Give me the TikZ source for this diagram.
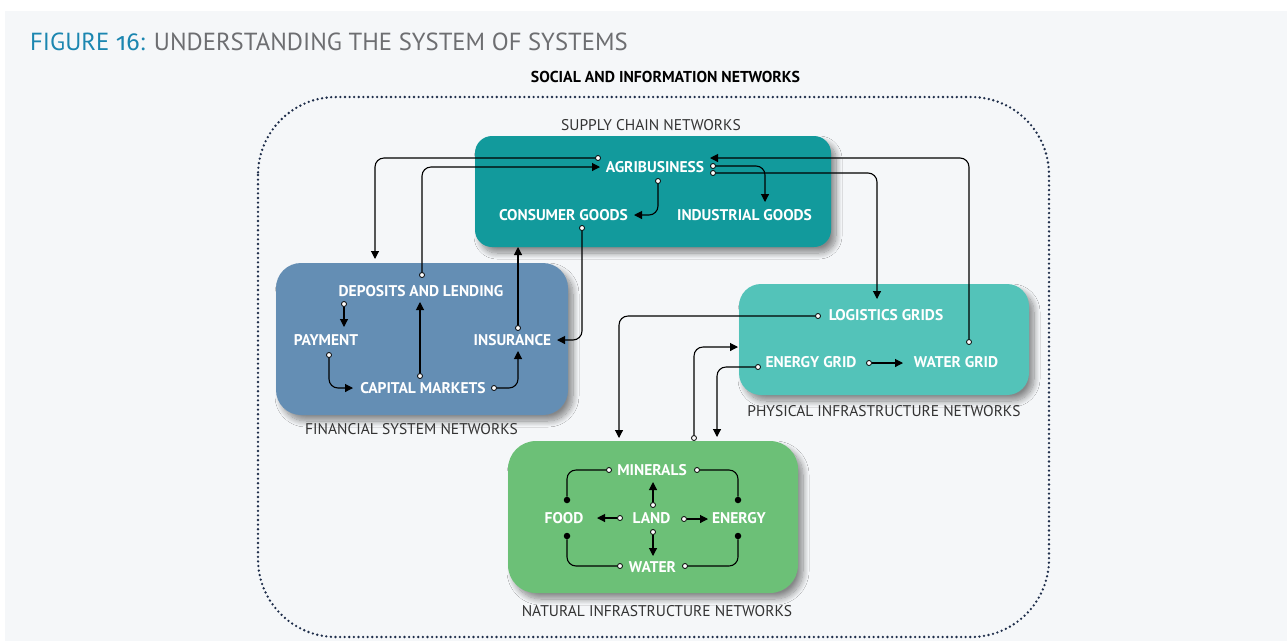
\documentclass[tikz,border=0pt]{standalone}
\usepackage{fontspec}
\setmainfont{PT Sans}
\newfontfamily\oldnum[Numbers=OldStyle]{Fira Sans}
\usetikzlibrary{arrows.meta,shadows,shadows.blur}
\definecolor{bgc}{HTML}{F5F7F9}
\definecolor{titleblue}{HTML}{1B86B0}
\definecolor{titlegray}{HTML}{6D6E71}
\definecolor{supply}{HTML}{129A9C}
\definecolor{fin}{HTML}{648EB4}
\definecolor{phys}{HTML}{53C3B9}
\definecolor{nat}{HTML}{6CC077}
\definecolor{dotc}{HTML}{1E2D4A}
\definecolor{labc}{HTML}{333333}
\begin{document}
\begin{tikzpicture}[x=1pt,y=-1pt,
  netbox/.style={rounded corners=#1, inner sep=0pt,
    blur shadow={shadow xshift=5pt, shadow yshift=-6pt, shadow blur radius=6pt, shadow blur steps=12, shadow opacity=45}},
  lab/.style={text=white, font=\bfseries\fontsize{15.5}{15.5}\selectfont, inner sep=0pt},
  boxcap/.style={text=labc, font=\fontsize{15.5}{15.5}\selectfont, inner sep=0pt},
  port/.style={circle, draw=black, fill=white, line width=0.8pt, inner sep=0pt, minimum size=5pt},
  blob/.style={circle, fill=black, inner sep=0pt, minimum size=6.5pt},
  conn/.style={draw=black, line width=1.1pt, rounded corners=9pt},
  arr/.style={conn, -{Triangle[length=8pt,width=8pt]}},
  plainconn/.style={conn}
]
\useasboundingbox (0,0) rectangle (1287,641);
\fill[white] (0,0) rectangle (1287,641);
\fill[bgc] (5,11) rectangle (1287,641);

% title
\node[anchor=base west, inner sep=0pt] (title) at (30,50)
  {\fontsize{24.7}{24.7}\selectfont\color{titleblue}FIGURE {\oldnum 16}: \color{titlegray}UNDERSTANDING THE SYSTEM OF SYSTEMS};
\node[inner sep=0pt, font=\bfseries\fontsize{15.8}{15.8}\selectfont] (social) at (665.5,77) {SOCIAL AND INFORMATION NETWORKS};

% dotted outer boundary
\draw[dotc, line width=2.6pt, line cap=round, dash pattern=on 0pt off 4.6pt, rounded corners=78pt]
  (258,97) rectangle (1049,637);

% boxes
\node[netbox=17pt, fill=supply, minimum width=356pt, minimum height=111pt] (sc) at (653,191.5) {};
\node[netbox=25pt, fill=fin, minimum width=292pt, minimum height=152pt] (fs) at (422,339) {};
\node[netbox=22pt, fill=phys, minimum width=290pt, minimum height=111pt] (pi) at (884,339.5) {};
\node[netbox=28pt, fill=nat, minimum width=290pt, minimum height=152pt] (ni) at (653,517) {};

% box captions
\node[boxcap] (sccap) at (651,125) {SUPPLY CHAIN NETWORKS};
\node[boxcap] (fscap) at (411.5,429) {FINANCIAL SYSTEM NETWORKS};
\node[boxcap] (picap) at (884,411) {PHYSICAL INFRASTRUCTURE NETWORKS};
\node[boxcap] (nicap) at (657,611) {NATURAL INFRASTRUCTURE NETWORKS};

% labels
\node[lab] (agri) at (655,167.5) {AGRIBUSINESS};
\node[lab] (cons) at (563.5,215.5) {CONSUMER GOODS};
\node[lab] (indu) at (744.5,215.5) {INDUSTRIAL GOODS};
\node[lab] (depo) at (421,291.5) {DEPOSITS AND LENDING};
\node[lab] (paym) at (326,340.5) {PAYMENT};
\node[lab] (insu) at (512.5,340.5) {INSURANCE};
\node[lab] (capm) at (423,388) {CAPITAL MARKETS};
\node[lab] (logi) at (886,315.5) {LOGISTICS GRIDS};
\node[lab] (enrg) at (811,362.5) {ENERGY GRID};
\node[lab] (watg) at (956,362.5) {WATER GRID};
\node[lab] (mine) at (652,470) {MINERALS};
\node[lab] (food) at (564,518) {FOOD};
\node[lab] (land) at (651.5,518) {LAND};
\node[lab] (ener) at (739,518) {ENERGY};
\node[lab] (watr) at (652.5,567) {WATER};

% connector end points
\coordinate (t1) at (375,259);
\coordinate (t2) at (600,167);
\coordinate (t3) at (634,215);
\coordinate (t4) at (765,202);
\coordinate (t5) at (877,299);
\coordinate (t6) at (710,158);
\coordinate (t7) at (557,340);
\coordinate (t8) at (518,247);
\coordinate (t9) at (344,327);
\coordinate (t10) at (420,302);
\coordinate (t11) at (353,388);
\coordinate (t12) at (518,351);
\coordinate (t13) at (619,438);
\coordinate (t14) at (738,347);
\coordinate (t15) at (717,437);
\coordinate (t16) at (903,363);
\coordinate (t21) at (597,518);
\coordinate (t22) at (708,519);
\coordinate (t23) at (653,482);
\coordinate (t24) at (653,556);

% ports (start circles)
\node[port] (p1) at (598,158) {};
\node[port] (p2) at (422,275) {};
\node[port] (p3) at (658,181) {};
\node[port] (p4) at (713,166) {};
\node[port] (p5) at (713,173) {};
\node[port] (p6) at (969,342) {};
\node[port] (p7) at (582,228) {};
\node[port] (p8) at (518,328) {};
\node[port] (p9) at (344,304) {};
\node[port] (p10) at (420,376) {};
\node[port] (p11) at (329,355) {};
\node[port] (p12) at (494,388) {};
\node[port] (p13) at (818,316) {};
\node[port] (p14) at (694,438) {};
\node[port] (p15) at (758,367) {};
\node[port] (p16) at (869,363) {};
\node[port] (p17) at (609,470) {};
\node[port] (p18) at (697,470) {};
\node[port] (p19) at (620,566) {};
\node[port] (p20) at (685,566) {};
\node[port] (p21) at (620,518) {};
\node[port] (p22) at (684,519) {};
\node[port] (p23) at (653,505) {};
\node[port] (p24) at (653,532) {};

% filled dots
\node[blob] (d17) at (567,500) {};
\node[blob] (d18) at (738,500) {};
\node[blob] (d19) at (567,536) {};
\node[blob] (d20) at (738,536) {};

% connectors
\draw[arr] (p1) -| (t1);
\draw[arr] (p2) |- (t2);
\draw[arr] (p3) |- (t3);
\draw[arr] (p4) -| (t4);
\draw[arr] (p5) -| (t5);
\draw[arr] (p6) |- (t6);
\draw[arr] (p7) |- (t7);
\draw[arr] (p8) -- (t8);
\draw[arr] (p9) -- (t9);
\draw[arr] (p10) -- (t10);
\draw[arr] (p11) |- (t11);
\draw[arr] (p12) -| (t12);
\draw[arr] (p13) -| (t13);
\draw[arr] (p14) |- (t14);
\draw[arr] (p15) -| (t15);
\draw[arr] (p16) -- (t16);
\draw[plainconn] (p17) -| (d17);
\draw[plainconn] (p18) -| (d18);
\draw[plainconn] (p19) -| (d19);
\draw[plainconn] (p20) -| (d20);
\draw[arr] (p21) -- (t21);
\draw[arr] (p22) -- (t22);
\draw[arr] (p23) -- (t23);
\draw[arr] (p24) -- (t24);
\end{tikzpicture}
\end{document}
